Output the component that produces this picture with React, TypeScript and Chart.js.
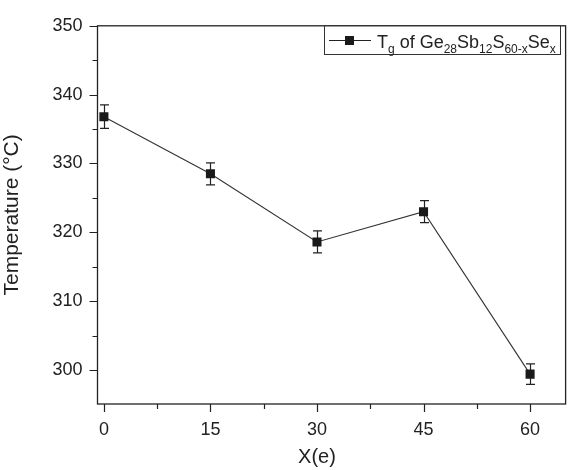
import React, { useEffect, useRef } from "react";
import { Chart, registerables } from "chart.js";

Chart.register(...registerables);

const categories = [0, 15, 30, 45, 60];
const tgValues = [336.8, 328.5, 318.6, 323.0, 299.4];
const tgErrors = [1.7, 1.6, 1.6, 1.6, 1.5];
const xTicks = [0, 15, 30, 45, 60];
const xMinorTicks = [7.5, 22.5, 37.5, 52.5];
const yTicks = [300, 310, 320, 330, 340, 350];
const yMinorTicks = [305, 315, 325, 335, 345];
const xTitle = "X(e)";
const yTitle = "Temperature (°C)";

const FONT = "'Liberation Sans', Arial, Helvetica, sans-serif";

const framePlugin = {
  id: "frameTicks",
  afterDraw(chart: any) {
    const { ctx, chartArea: a, scales } = chart;
    const xs = scales.x;
    const ys = scales.y;
    ctx.save();
    ctx.strokeStyle = "#222";
    ctx.lineWidth = 1.3;
    ctx.strokeRect(a.left, a.top, a.right - a.left, a.bottom - a.top);
    ctx.lineWidth = 1.2;
    ctx.beginPath();
    xTicks.forEach((v) => {
      const px = Math.round(xs.getPixelForValue(v)) + 0.5;
      ctx.moveTo(px, a.bottom);
      ctx.lineTo(px, a.bottom + 8);
    });
    xMinorTicks.forEach((v) => {
      const px = Math.round(xs.getPixelForValue(v)) + 0.5;
      ctx.moveTo(px, a.bottom);
      ctx.lineTo(px, a.bottom + 5);
    });
    yTicks.forEach((v) => {
      const py = Math.round(ys.getPixelForValue(v)) + 0.5;
      ctx.moveTo(a.left, py);
      ctx.lineTo(a.left - 8, py);
    });
    yMinorTicks.forEach((v) => {
      const py = Math.round(ys.getPixelForValue(v)) + 0.5;
      ctx.moveTo(a.left, py);
      ctx.lineTo(a.left - 5, py);
    });
    ctx.stroke();

    // x title centered on tick range
    ctx.fillStyle = "#222";
    ctx.font = `20px ${FONT}`;
    ctx.textAlign = "center";
    ctx.textBaseline = "middle";
    const cx = (xs.getPixelForValue(xTicks[0]) + xs.getPixelForValue(xTicks[xTicks.length - 1])) / 2;
    ctx.fillText(xTitle, cx, 457);
    ctx.restore();
  },
};

const errorBarPlugin = {
  id: "errorBars",
  beforeDatasetsDraw(chart: any) {
    const { ctx, scales } = chart;
    ctx.save();
    ctx.strokeStyle = "#222";
    ctx.lineWidth = 1.2;
    ctx.beginPath();
    categories.forEach((c, i) => {
      const px = Math.round(scales.x.getPixelForValue(c)) + 0.5;
      const top = scales.y.getPixelForValue(tgValues[i] + tgErrors[i]);
      const bot = scales.y.getPixelForValue(tgValues[i] - tgErrors[i]);
      ctx.moveTo(px, top);
      ctx.lineTo(px, bot);
      ctx.moveTo(px - 4.5, top);
      ctx.lineTo(px + 4.5, top);
      ctx.moveTo(px - 4.5, bot);
      ctx.lineTo(px + 4.5, bot);
    });
    ctx.stroke();
    ctx.restore();
  },
};

const legendPlugin = {
  id: "customLegend",
  afterDraw(chart: any) {
    const { ctx } = chart;
    ctx.save();
    const bx = 324.5, by = 25.5, bw = 236, bh = 29;
    ctx.strokeStyle = "#333";
    ctx.lineWidth = 1;
    ctx.strokeRect(bx, by, bw, bh);
    // sample
    ctx.strokeStyle = "#222";
    ctx.lineWidth = 1.2;
    ctx.beginPath();
    ctx.moveTo(329, 40.5);
    ctx.lineTo(371, 40.5);
    ctx.stroke();
    ctx.fillStyle = "#1a1a1a";
    ctx.fillRect(345, 36, 9, 9);
    // text with subscripts
    const parts: [string, boolean][] = [
      ["T", false], ["g", true], [" of Ge", false], ["28", true], ["Sb", false],
      ["12", true], ["S", false], ["60-x", true], ["Se", false], ["x", true],
    ];
    let x = 377;
    const base = 47.5;
    ctx.textBaseline = "alphabetic";
    ctx.textAlign = "left";
    ctx.fillStyle = "#222";
    parts.forEach(([t, sub]) => {
      ctx.font = sub ? `12px ${FONT}` : `18px ${FONT}`;
      ctx.fillText(t, x, sub ? base + 5 : base);
      x += ctx.measureText(t).width;
    });
    ctx.restore();
  },
};

export default function App() {
  const ref = useRef<HTMLCanvasElement | null>(null);
  useEffect(() => {
    document.body.style.margin = "0";
    if (!ref.current) return;
    const chart = new Chart(ref.current, {
      type: "line",
      data: {
        datasets: [
          {
            label: "Tg",
            data: categories.map((c, i) => ({ x: c, y: tgValues[i] })),
            borderColor: "#333",
            borderWidth: 1.1,
            pointStyle: "rect",
            pointRadius: 6.4,
            pointBackgroundColor: "#1a1a1a",
            pointBorderColor: "#1a1a1a",
            pointBorderWidth: 0,
            tension: 0,
          },
        ],
      },
      options: {
        animation: false,
        responsive: false,
        layout: { padding: { top: 15, right: 1, left: 0, bottom: 0 } },
        plugins: { legend: { display: false }, tooltip: { enabled: false } },
        scales: {
          x: {
            type: "linear",
            min: -0.9,
            max: 65,
            afterBuildTicks: (s: any) => {
              s.ticks = xTicks.map((v) => ({ value: v }));
            },
            afterFit: (s: any) => {
              s.height = 66;
            },
            grid: { display: false, drawTicks: false },
            border: { display: false },
            ticks: {
              color: "#222",
              font: { family: FONT, size: 18 },
              padding: 15,
              maxRotation: 0,
            },
          },
          y: {
            type: "linear",
            min: 295.06,
            max: 350,
            afterBuildTicks: (s: any) => {
              s.ticks = yTicks.map((v) => ({ value: v }));
            },
            afterFit: (s: any) => {
              s.width = 97.5;
            },
            grid: { display: false, drawTicks: false },
            border: { display: false },
            ticks: {
              color: "#222",
              font: { family: FONT, size: 18 },
              padding: 15,
            },
            title: {
              display: true,
              text: yTitle,
              color: "#222",
              font: { family: FONT, size: 21 },
              padding: { top: 0, bottom: 0 },
            },
          },
        },
      },
      plugins: [framePlugin, errorBarPlugin, legendPlugin],
    } as any);
    return () => chart.destroy();
  }, []);
  return <canvas ref={ref} width={572} height={470} style={{ display: "block" }} />;
}
